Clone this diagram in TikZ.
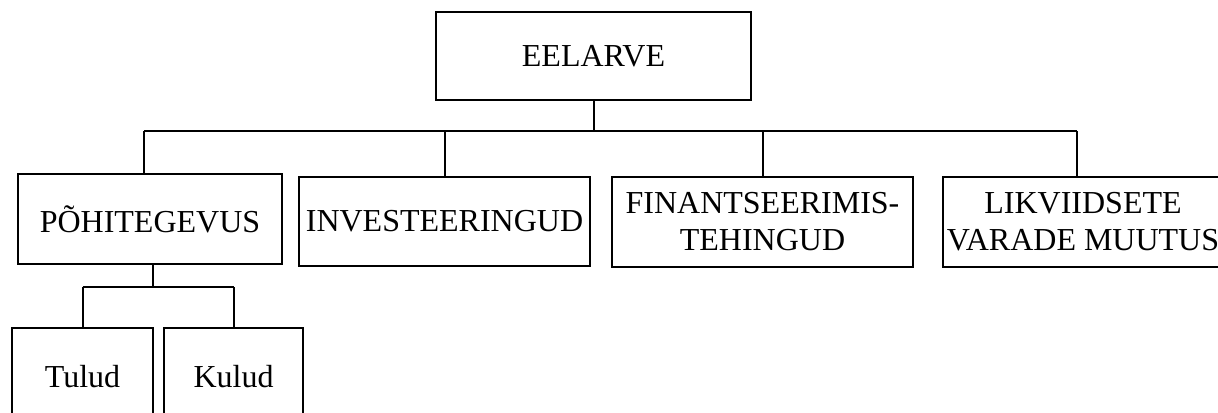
\documentclass[tikz,border=0pt]{standalone}
\usepackage{fontspec}
\setmainfont{Liberation Serif}
\usepackage{tikz}
\usetikzlibrary{calc}
\tikzstyle{every node}=[font=\fontsize{16}{18.5}\selectfont]
\tikzstyle{box}=[draw, line width=1pt, align=center, inner sep=0pt]

\begin{document}
\begin{tikzpicture}[x=0.5pt, y=-0.5pt, line width=1pt]
            \clip (0,0) rectangle (1218,412);
            \useasboundingbox (0,0) rectangle (1218,412);

            \def\busy{131}
            \def\subbusy{287}

            \node [box, minimum width=157.5pt, minimum height=44pt] (eelarve) at (593.5, 56) {EELARVE};

            \node [box, minimum width=132pt, minimum height=45pt] (pohi) at (150, 219) {PÕHITEGEVUS};
            \node [box, minimum width=145.5pt, minimum height=44.5pt] (invest) at (444.5, 221.5) {INVESTEERINGUD};
            \node [box, minimum width=150.5pt, minimum height=45pt] (finants) at (762.5, 222) {FINANTSEERIMIS-\\TEHINGUD};
            \node [box, minimum width=140pt, minimum height=45pt] (likv) at (1083, 222) {LIKVIIDSETE\\VARADE MUUTUS};

            \node [box, minimum width=70.5pt, minimum height=49pt] (tulud) at (82.5, 377) {Tulud};
            \node [box, minimum width=69.5pt, minimum height=49pt] (kulud) at (233.5, 377) {Kulud};

            \coordinate (bus) at (0, \busy);
            \coordinate (subbus) at (0, \subbusy);

            \draw (eelarve.south) -- (eelarve.south |- bus);
            \draw ([xshift=-3pt]pohi.north |- bus) -- ([xshift=-3pt]likv.north |- bus);
            \draw ([xshift=-3pt]pohi.north) -- ([xshift=-3pt]pohi.north |- bus);
            \draw (invest.north) -- (invest.north |- bus);
            \draw (finants.north) -- (finants.north |- bus);
            \draw ([xshift=-3pt]likv.north) -- ([xshift=-3pt]likv.north |- bus);

            \draw ([xshift=1.5pt]pohi.south) -- ([xshift=1.5pt]pohi.south |- subbus);
            \draw (tulud.north |- subbus) -- (kulud.north |- subbus);
            \draw (tulud.north) -- (tulud.north |- subbus);
            \draw (kulud.north) -- (kulud.north |- subbus);
        \end{tikzpicture}
\end{document}
